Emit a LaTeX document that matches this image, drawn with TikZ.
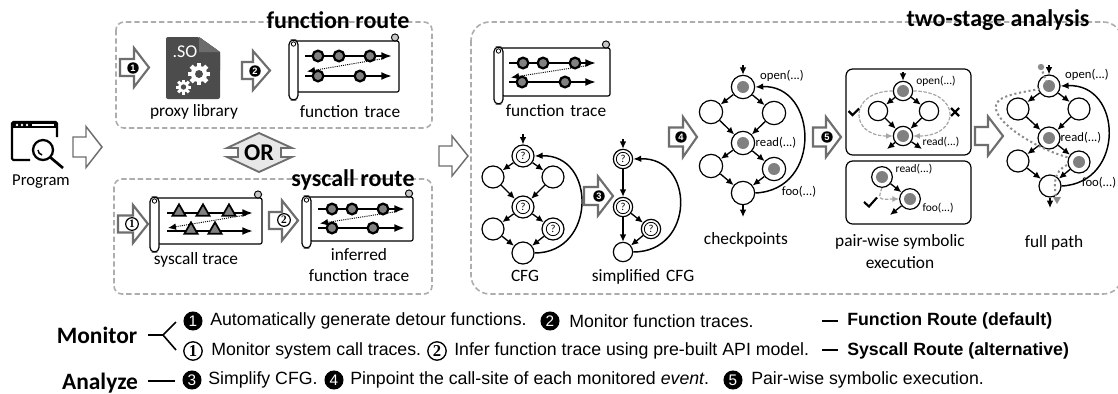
\documentclass[tikz,border=0pt]{standalone}
\usepackage{fontspec}
\setmainfont{Carlito}
\newfontfamily\arialf{Liberation Sans}
\newfontfamily\serifnum{Liberation Serif}
\usetikzlibrary{arrows.meta,shapes.geometric,calc}
\definecolor{arrowgray}{gray}{0.43}
\definecolor{dashgray}{gray}{0.68}
\definecolor{docgray}{gray}{0.30}
\definecolor{dotgray}{gray}{0.50}
\definecolor{pathgray}{gray}{0.55}
\tikzset{
  dashbox/.style={draw=dashgray,line width=1.2pt,dash pattern=on 4pt off 2.2pt},
  blockarr/.style={draw=arrowgray,line width=1.6pt,fill=white,line join=miter},
  thinarr/.style={draw=arrowgray,line width=1.1pt,fill=white,line join=miter},
  numdark/.style={circle,fill=black,text=white,inner sep=0pt,minimum size=8.6pt,font=\arialf\bfseries\fontsize{7}{7}\selectfont},
  numlight/.style={circle,draw=black,line width=.9pt,fill=white,text=black,inner sep=0pt,minimum size=9.5pt,font=\serifnum\bfseries\fontsize{8.5}{8.5}\selectfont},
  lgdark/.style={numdark,minimum size=14.3pt,font=\arialf\fontsize{11.5}{11.5}\selectfont},
  lglight/.style={numlight,line width=1pt,minimum size=13.8pt,font=\serifnum\bfseries\fontsize{12.5}{12.5}\selectfont},
  lbl/.style={inner sep=0pt,font=\fontsize{13}{15}\selectfont},
  sublbl/.style={inner sep=0pt,font=\fontsize{9.5}{11}\selectfont},
  smalllbl/.style={inner sep=0pt,font=\fontsize{8.6}{10}\selectfont},
  title/.style={inner sep=0pt,font=\bfseries\fontsize{18}{20}\selectfont},
  legend/.style={inner sep=0pt,anchor=west,font=\arialf\fontsize{13.3}{15}\selectfont},
  legendb/.style={inner sep=0pt,anchor=west,font=\arialf\bfseries\fontsize{13.3}{15}\selectfont},
  headw/.style={inner sep=0pt,font=\bfseries\fontsize{17.6}{20}\selectfont},
  cfgc/.style={circle,draw=black,line width=.9pt,fill=white,inner sep=0pt,minimum size=16.5pt},
  cfgm/.style={cfgc,minimum size=14.5pt},
  cfgs/.style={cfgc,minimum size=15pt},
  qmark/.style={circle,draw=black,line width=.6pt,fill=white,inner sep=0pt,minimum size=10pt,font=\fontsize{8}{8}\selectfont},
  edge/.style={line width=1pt,-{Latex[length=5.5pt,width=5pt]}},
  backedge/.style={line width=1.1pt,-{Latex[length=6pt,width=5pt]}},
  grayedge/.style={draw=gray!70,line width=.9pt,dash pattern=on 2.6pt off 1.2pt,-{Latex[length=5pt,width=4.5pt]}},
  runline/.style={line width=1.5pt,-{Latex[length=8pt,width=6pt]}},
  dotline/.style={line width=.7pt,dash pattern=on .8pt off .8pt,-{Latex[length=6pt,width=5pt]}},
  tracedot/.style={circle,draw=black,line width=1.7pt,fill=dotgray,inner sep=0pt,minimum size=8pt},
  tracetri/.style={regular polygon,regular polygon sides=3,draw=black,line width=1.3pt,fill=dotgray,inner sep=0pt,minimum size=11.5pt},
  frameln/.style={draw=black,line width=.9pt,fill=white},
  pathdots/.style={draw=pathgray,line width=1.5pt,dash pattern=on 1.6pt off 2pt},
  bigbox/.style={draw=black,line width=.9pt,rounded corners=5pt,fill=white},
  ticked/.style={line width=1.6pt,line cap=butt}
}
% arrow: style, x0, xbase, xtip, yc, stem half, head half
\newcommand\blockarrow[7]{%
  \draw[#1] (#2,#5-#6) -- (#3,#5-#6) -- (#3,#5-#7) -- (#4,#5) -- (#3,#5+#7) -- (#3,#5+#6) -- (#2,#5+#6) -- cycle;}
% scroll frame: x, y(top), w, h, roller height
\newcommand\scrollframe[5]{%
  \begin{scope}[shift={(#1,#2)}]
    \draw[frameln,rounded corners=1.5pt] (4,0) -- (#3,0) -- (#3,#4) -- (8,#4) -- (8,0) -- cycle;
    \draw[frameln,fill=gray!45,line width=.7pt] (#3-4,-3.5) circle (3.6);
    \draw[frameln,fill=white,rounded corners=3.4pt] (0,-1) rectangle (9,#5);
    \draw[line width=.6pt] (4.5,3) circle (2.2);
  \end{scope}}
% function marks: x0,x1,y1,y2,a,b,c | d,e, dotted from/to
\newcommand\funcmarks[9]{%
  \coordinate (ls1) at (#1,#3); \coordinate (le1) at (#2,#3);
  \coordinate (ls2) at (#1,#4); \coordinate (le2) at (#2,#4);
  \draw[runline] (ls1) -- (le1);
  \draw[runline] (ls2) -- (le2);
  \node[tracedot] at (#5,#3) {};
  \node[tracedot] at (#6,#3) {};
  \node[tracedot] at (#7,#3) {};
  \node[tracedot] at (#8,#4) {};
  \node[tracedot] at (#9,#4) {};
  \coordinate (ds) at ($(le1)+(-8,2.5)$);
  \coordinate (de) at ($(ls2)+(2,-4.5)$);
  \draw[dotline] (ds) -- (de);}
\newcommand\gearshape[3]{%
  \begin{scope}[shift={(#1,#2)},scale=#3]
    \fill[white] (0,0) circle (.74);
    \foreach \a in {0,45,...,315}{\fill[white,rotate=\a] (-.2,0) rectangle (.2,1);}
    \fill[docgray] (0,0) circle (.36);
  \end{scope}}
\newcommand\qnode[4]{\node[#1] (#2) at (#3,#4) {}; \node[qmark] (#2q) at (#2) {?};}
\newcommand\cpnode[4]{\node[#1] (#2) at (#3,#4) {}; \fill[dotgray] (#2.center) circle (6);}
\begin{document}
\begin{tikzpicture}[x=0.75pt,y=-0.75pt]
\useasboundingbox (0,0) rectangle (1118,393);
\fill[white] (0,0) rectangle (1118,393);
% dashed containers
\draw[dashbox,rounded corners=6pt] (116,22) rectangle (432,128);
\draw[dashbox,rounded corners=6pt] (114,179) rectangle (432,294);
\begin{scope}
\clip (0,0) rectangle (1118,393);
\draw[dashbox,rounded corners=14pt] (471,22) rectangle (1122,294);
\end{scope}
\node[title] (t1) at (338,20) {function route};
\node[title] (t2) at (353,180) {syscall route};
\node[title] (t3) at (998,20) {two-stage analysis};
% program icon
\draw[line width=1.6pt,rounded corners=1pt] (30,160) -- (12,160) -- (12,122) -- (57,122) -- (57,137);
\fill[black] (12,122) rectangle (57,128);
\foreach \x in {17,22,27}{\fill[white] (\x,125) circle (1.4);}
\draw[white,line width=1pt] (32,125) -- (54,125);
\draw[line width=1.7pt,fill=white] (43,150) circle (10);
\draw[line width=1.1pt] (38,150) arc (180:100:5);
\draw[line width=2pt] (50.5,157.5) -- (63,168);
\node[lbl,font=\fontsize{12.5}{14}\selectfont] (prog) at (41,182) {Program};
\blockarrow{thinarr}{73}{86}{102}{147}{10}{20.5}
% function route
\blockarrow{blockarr}{120}{134}{149}{67.5}{8.5}{19.5}
\node[numdark] (n1) at (133,68) {1};
\blockarrow{blockarr}{242}{253}{270}{70.5}{8.5}{19.5}
\node[numdark] (n2) at (255,71) {2};
% document icon
\fill[docgray,rounded corners=1.5pt] (166,37) -- (199,37) -- (220,52) -- (220,99) -- (166,99) -- cycle;
\fill[gray!60!black] (199,37) -- (220,52) -- (220,70) -- (199,52) -- cycle;
\fill[gray!85!black] (199,37) -- (220,52) -- (199,52) -- cycle;
\node[inner sep=0pt,text=white,font=\fontsize{13.5}{14}\selectfont] (so) at (185,52) {.SO};
\gearshape{199}{74}{11}
\gearshape{183.5}{87}{7.5}
\node[lbl] (pl) at (194,112) {proxy library};
\scrollframe{289}{41}{110}{51}{59}
\funcmarks{305}{392}{56}{76}{318}{339}{370}{318}{360}
\node[lbl] (ft1) at (350,112) {function\hspace{1.5pt} trace};
% OR
\draw[thinarr,fill=gray!18,line width=1.4pt] (259,133) -- (292,148) -- (281,148) -- (281,157) -- (292,157) -- (259,172) -- (227,157) -- (238,157) -- (238,148) -- (227,148) -- cycle;
\node[inner sep=0pt,font=\bfseries\fontsize{18}{20}\selectfont] (or) at (259,152.5) {OR};
% syscall route
\blockarrow{blockarr}{118}{133}{148}{224}{8.5}{19}
\node[numlight] (m1) at (132,224) {1};
\scrollframe{150}{198}{112}{46}{54}
\coordinate (sa) at (167,213); \coordinate (sb) at (253,213);
\coordinate (sc) at (167,231); \coordinate (sd) at (253,231);
\draw[runline] (sa) -- (sb);
\draw[runline] (sc) -- (sd);
\foreach \x in {179,203,229}{\node[tracetri] at (\x,212) {};}
\foreach \x in {191,215}{\node[tracetri] at (\x,230) {};}
\coordinate (sd1) at (246,215); \coordinate (sd2) at (168,228);
\draw[dotline] (sd1) -- (sd2);
\node[lbl] (st) at (196,260) {syscall trace};
\blockarrow{blockarr}{269}{282}{298}{220.5}{8.5}{20}
\node[numlight] (m2) at (284,220) {2};
\scrollframe{302}{197}{111}{44}{51}
\funcmarks{318}{405}{209}{228}{332}{352}{383}{332}{373}
\node[lbl] (inf1) at (359,255) {inferred};
\node[lbl] (inf2) at (359,276) {function\hspace{1.5pt} trace};
% center arrow
\blockarrow{thinarr}{439}{452}{468}{156}{10}{20}
% two stage: trace
\scrollframe{494}{48}{116}{48}{56}
\funcmarks{509}{596}{63}{82}{523}{543}{575}{522}{565}
\node[lbl] (ft3) at (556,111) {function\hspace{1.5pt} trace};
% CFG
\qnode{cfgc}{at}{523}{156}
\node[cfgc] (al1) at (493,177) {};
\node[cfgc] (ar1) at (553,177) {};
\qnode{cfgc}{am}{523}{207}
\node[cfgc] (al2) at (493,229) {};
\qnode{cfgc}{ar2}{553}{229}
\node[cfgc] (ab) at (523,253) {};
\coordinate (ae) at (523,134);
\draw[edge] (ae) -- (at);
\foreach \a/\b in {at/al1,at/ar1,al1/am,ar1/am,am/al2,am/ar2,al2/ab,ar2/ab}{\draw[edge] (\a) -- (\b);}
\draw[backedge] (ab.east) .. controls +(62,0) and +(62,-2) .. (at.east);
\node[lbl] (cfg) at (525,276) {CFG};
% arrow 3
\blockarrow{blockarr}{584}{598}{613}{196}{9}{19.5}
\node[numdark] (n3) at (599,196) {3};
% simplified
\qnode{cfgm}{bt}{623}{159}
\qnode{cfgm}{bm}{623}{207}
\qnode{cfgm}{br}{651}{229}
\node[cfgm] (bb) at (623,252) {};
\coordinate (be) at (623,139);
\draw[edge] (be) -- (bt);
\foreach \a/\b in {bt/bm,bm/bb,bm/br,br/bb}{\draw[edge] (\a) -- (\b);}
\draw[backedge] (bb.east) .. controls +(62,0) and +(62,-2) .. (bt.east);
\node[lbl] (scfg) at (643,277) {simplified\hspace{1.5pt} CFG};
% arrow 4
\blockarrow{blockarr}{669}{683}{697}{137}{9.5}{20}
\node[numdark] (n4) at (681,137) {4};
% checkpoints
\cpnode{cfgc,minimum size=17.5pt}{ct}{743}{87}
\node[cfgc,minimum size=17.5pt] (cl1) at (711,112) {};
\node[cfgc,minimum size=17.5pt] (cr1) at (774,113) {};
\cpnode{cfgc,minimum size=17.5pt}{cm}{743}{143}
\node[cfgc,minimum size=17.5pt] (cl2) at (711,166) {};
\cpnode{cfgc,minimum size=17.5pt}{cr2}{774}{169}
\node[cfgc,minimum size=17.5pt] (cb) at (743,193) {};
\coordinate (ce) at (743,65); \coordinate (cx) at (743,217);
\draw[edge] (ce) -- (ct);
\draw[edge] (cb) -- (cx);
\foreach \a/\b in {ct/cl1,ct/cr1,cl1/cm,cr1/cm,cm/cl2,cm/cr2,cl2/cb,cr2/cb}{\draw[edge] (\a) -- (\b);}
\draw[backedge] (cb.east) .. controls +(68,-3) and +(62,-3) .. (ct.east);
\node[sublbl] (c1) at (782,76) {open(...)};
\node[sublbl] (c2) at (776,143) {read(...)};
\node[sublbl] (c3) at (799,192) {foo(...)};
\node[lbl] (cpl) at (746,240) {checkpoints};
% arrow 5
\blockarrow{blockarr}{813}{826}{841}{137}{9.5}{20}
\node[numdark] (n5) at (827,137) {5};
% pair-wise boxes
\draw[bigbox] (846,69) rectangle (971,155);
\draw[bigbox] (846,161) rectangle (971,224);
\cpnode{cfgs,minimum size=14.5pt}{dt}{903}{91}
\node[cfgs,minimum size=14.5pt] (dl) at (878,111) {};
\node[cfgs,minimum size=14.5pt] (dr) at (929,111) {};
\cpnode{cfgs,minimum size=14.5pt}{db}{903}{136}
\coordinate (de0) at (903,72); \coordinate (dx1) at (887,149); \coordinate (dx2) at (922,149);
\draw[edge] (de0) -- (dt);
\draw[edge] (db) -- (dx1);
\draw[edge] (db) -- (dx2);
\foreach \a/\b in {dt/dl,dt/dr,dl/db,dr/db}{\draw[edge] (\a) -- (\b);}
\draw[grayedge] (dt.west) .. controls +(-44,0) and +(-44,0) .. (db.west);
\draw[grayedge] (dt.east) .. controls +(48,0) and +(48,0) .. (db.east);
\node[smalllbl] (d1) at (936,81) {open(...)};
\node[smalllbl] (d2) at (941,142) {read(...)};
\draw[ticked] (848.5,111) -- (852.5,115) -- (859,108.5);
\draw[ticked] (951,108) -- (959,116) (959,108) -- (951,116);
\cpnode{cfgs,minimum size=15.5pt}{ea}{882}{177}
\cpnode{cfgs,minimum size=15.5pt}{eb}{910}{199}
\coordinate (ex) at (890,215);
\draw[edge] (ea) -- (eb);
\draw[edge] (eb) -- (ex);
\draw[grayedge] (ea.south) .. controls +(-6,14) and +(-16,0) .. (eb.west);
\node[smalllbl] (e1) at (914,169) {read(...)};
\node[smalllbl] (e2) at (938,208) {foo(...)};
\draw[ticked] (864,202) -- (869,206.5) -- (877,197.5);
\node[lbl] (pw1) at (900,242) {pair-wise symbolic};
\node[lbl] (pw2) at (900,263) {execution};
% big arrow
\blockarrow{blockarr}{975}{988}{1003}{136}{9}{19.5}
% full path
\cpnode{cfgc}{ft}{1049}{86}
\node[cfgc] (fl1) at (1018,109) {};
\node[cfgc] (fr1) at (1079,109) {};
\cpnode{cfgc}{fm}{1049}{138}
\node[cfgc] (fl2) at (1018,161) {};
\cpnode{cfgc}{fr2}{1079}{162}
\node[cfgc] (fb) at (1050,186) {};
\coordinate (fe) at (1049,65); \coordinate (fx) at (1050,208);
\draw[edge] (fe) -- (ft);
\draw[edge] (fb) -- (fx);
\foreach \a/\b in {ft/fl1,ft/fr1,fl1/fm,fr1/fm,fm/fl2,fm/fr2,fl2/fb,fr2/fb}{\draw[edge] (\a) -- (\b);}
\draw[backedge] (fb.east) .. controls +(64,-3) and +(62,-3) .. (ft.east);
\coordinate (p0) at (1041,67);
\fill[pathgray] (p0) circle (3.2);
\draw[pathdots] (p0) -- (1047,84);
\draw[pathdots] (1040,89) .. controls (1010,94) and (990,98) .. (997,112) .. controls (1003,128) and (1040,150) .. (1070,158);
\draw[pathdots] (1067,165) .. controls (1053,172) and (1054,185) .. (1056,197);
\fill[pathgray] (1053,197) -- (1061,197) -- (1057,204) -- cycle;
\node[sublbl] (f1) at (1087,75) {open(...)};
\node[sublbl] (f2) at (1081,138) {read(...)};
\node[sublbl] (f3) at (1099,183) {foo(...)};
\node[lbl] (fp) at (1054,243) {full path};
% legend
\node[headw] (mon) at (97,335) {Monitor};
\node[headw] (ana) at (100,383) {Analyze};
\coordinate (fa) at (148,335); \coordinate (fj) at (163,335);
\coordinate (fu) at (176,322); \coordinate (fd) at (176,350);
\coordinate (aa) at (148,381); \coordinate (ab2) at (175,381);
\draw[line width=1.2pt] (fa) -- (fj) -- (fu);
\draw[line width=1.2pt] (fj) -- (fd);
\draw[line width=1.5pt] (aa) -- (ab2);
\node[lgdark] (l1) at (193,321) {1};
\node[legend] (l1t) at (210,321) {Automatically generate detour functions.};
\node[lgdark] (l2) at (550,321) {2};
\node[legend] (l2t) at (569,321) {Monitor function traces.};
\coordinate (r1a) at (822,321); \coordinate (r1b) at (838,321);
\draw[line width=1.5pt] (r1a) -- (r1b);
\node[legendb] (r1) at (847,321) {Function Route (default)};
\node[lglight] (l3) at (193,351) {1};
\node[legend] (l3t) at (211,351) {Monitor system call traces.};
\node[lglight] (l4) at (437,351) {2};
\node[legend] (l4t) at (454,351) {Infer function trace using pre-built API model.};
\coordinate (r2a) at (822,350); \coordinate (r2b) at (838,350);
\draw[line width=1.5pt] (r2a) -- (r2b);
\node[legendb] (r2) at (847,351) {Syscall Route (alternative)};
\node[lgdark] (l5) at (192,380) {3};
\node[legend] (l5t) at (208,380) {Simplify CFG.};
\node[lgdark] (l6) at (334,380) {4};
\node[legend] (l6t) at (350,380) {Pinpoint the call-site of each monitored \textit{event}.};
\node[lgdark] (l7) at (733,380) {5};
\node[legend] (l7t) at (751,380) {Pair-wise symbolic execution.};
\end{tikzpicture}
\end{document}
